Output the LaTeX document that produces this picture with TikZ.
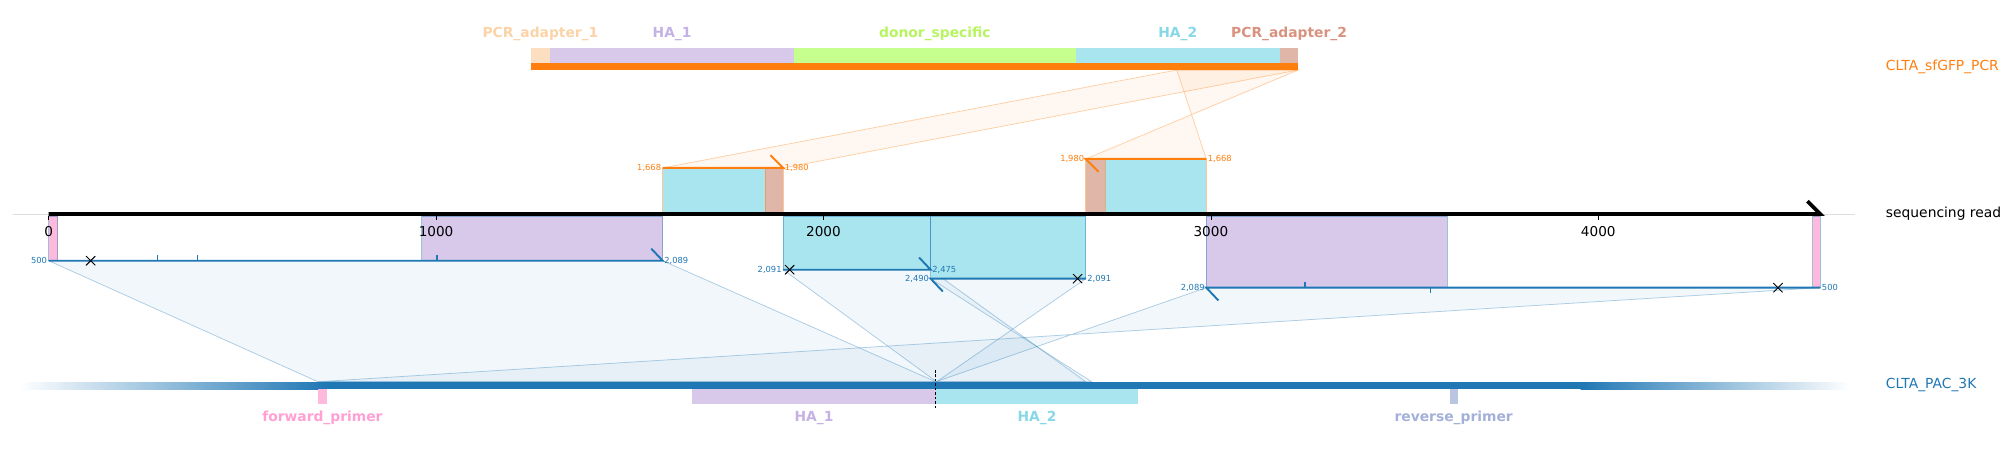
\documentclass[tikz,border=0pt]{standalone}
\usepackage{fontspec}
\setmainfont{DejaVu Sans}
\usepackage{tikz}
\usetikzlibrary{positioning}
\usetikzlibrary{shapes.misc}

\definecolor{cblue}{HTML}{1F77B4}
\definecolor{corange}{HTML}{FF7F0E}
\definecolor{haone}{HTML}{D8C8EA}
\definecolor{haonetxt}{HTML}{C4B1E5}
\definecolor{hatwo}{HTML}{A9E5EE}
\definecolor{hatwotxt}{HTML}{87D8E7}
\definecolor{adaone}{HTML}{FBDFC0}
\definecolor{adaonetxt}{HTML}{FBD3A6}
\definecolor{adatwo}{HTML}{E0B6A8}
\definecolor{adatwotxt}{HTML}{D9927F}
\definecolor{donor}{HTML}{C7FF8E}
\definecolor{donortxt}{HTML}{B6F55F}
\definecolor{fwd}{HTML}{FFB9DC}
\definecolor{fwdtxt}{HTML}{FF9FD3}
\definecolor{rev}{HTML}{BAC5E1}
\definecolor{revtxt}{HTML}{A3B0D8}

\begin{document}
\begin{tikzpicture}[
  x=1pt, y=-1pt,
  every node/.style={font=\fontsize{10.8}{13}\selectfont, inner sep=1pt},
  numlbl/.style={font=\fontsize{6.5}{7}\selectfont, inner sep=0.6pt},
  ticklbl/.style={font=\fontsize{10.6}{12}\selectfont},
  feat/.style={font=\bfseries\fontsize{10.8}{13}\selectfont},
  aln/.style={line width=1.5pt},
  blk/.style={draw opacity=0.45, line width=0.6pt},
  proj/.style={fill opacity=0.06, draw opacity=0.35, line width=0.6pt},
  xmk/.style={draw=black, cross out, line width=0.7pt, minimum size=6.5pt, inner sep=0pt}
]
\useasboundingbox (0,0) rectangle (1568,353);

% Coordinates
\coordinate (c1668) at (918,54.6);
\coordinate (c1980) at (1012.7,54.6);
\coordinate (r500) at (248,297.8);
\coordinate (r2089) at (730,297.8);
\coordinate (r2091) at (730.6,297.8);
\coordinate (r2475) at (847,297.8);
\coordinate (r2490) at (851.6,297.8);
\coordinate (o1s) at (517,131);
\coordinate (o1e) at (611,131);
\coordinate (o2s) at (847,124);
\coordinate (o2e) at (941,124);
\coordinate (a1s) at (38,203.4);
\coordinate (a1e) at (517,203.4);
\coordinate (a2s) at (611,210.4);
\coordinate (a2e) at (726,210.4);
\coordinate (a3s) at (726,217.4);
\coordinate (a3e) at (847,217.4);
\coordinate (a4s) at (941,224.4);
\coordinate (a4e) at (1420,224.4);

% Projections
\filldraw[proj, fill=corange, draw=corange] (c1668) -- (c1980) -- (o1e) -- (o1s) -- cycle;
\filldraw[proj, fill=corange, draw=corange] (c1668) -- (c1980) -- (o2s) -- (o2e) -- cycle;
\filldraw[proj, fill=cblue, draw=cblue] (a1s) -- (a1e) -- (r2089) -- (r500) -- cycle;
\filldraw[proj, fill=cblue, draw=cblue] (a2s) -- (a2e) -- (r2475) -- (r2091) -- cycle;
\filldraw[proj, fill=cblue, draw=cblue] (a3s) -- (a3e) -- (r2091) -- (r2490) -- cycle;
\filldraw[proj, fill=cblue, draw=cblue] (a4s) -- (a4e) -- (r500) -- (r2089) -- cycle;

% Construct
\fill[adaone] (414.3,37.5) rectangle (429,49.4);
\fill[haone] (429,37.5) rectangle (619.6,49.4);
\fill[donor] (619.6,37.5) rectangle (839,49.4);
\fill[hatwo] (839,37.5) rectangle (998.5,49.4);
\fill[adatwo] (998.5,37.5) rectangle (1012.7,49.4);
\fill[corange] (414.3,49.4) rectangle (1012.7,54.6);
\node[feat, text=adaonetxt] (pa1) at (421.6,26.8) {PCR\_adapter\_1};
\node[feat, text=haonetxt] (ha1) at (524.3,26.8) {HA\_1};
\node[feat, text=donortxt] (don) at (729.3,26.8) {donor\_specific};
\node[feat, text=hatwotxt] (ha2) at (918.8,26.8) {HA\_2};
\node[feat, text=adatwotxt] (pa2) at (1005.6,26.8) {PCR\_adapter\_2};
\node[anchor=west, text=corange] (pcr) at (1470,52) {CLTA\_sfGFP\_PCR};

% Blocks on the read
\filldraw[blk, fill=hatwo, draw=corange] (517,165.4) rectangle (597,131);
\filldraw[blk, fill=adatwo, draw=corange] (597,165.4) rectangle (611,131);
\filldraw[blk, fill=adatwo, draw=corange] (847,165.4) rectangle (862,124);
\filldraw[blk, fill=hatwo, draw=corange] (862,165.4) rectangle (941,124);
\filldraw[blk, fill=fwd, draw=cblue] (38,168.5) rectangle (45,203.4);
\filldraw[blk, fill=haone, draw=cblue] (329,168.5) rectangle (517,203.4);
\filldraw[blk, fill=hatwo, draw=cblue] (611,168.5) rectangle (726,210.4);
\filldraw[blk, fill=hatwo, draw=cblue] (726,168.5) rectangle (847,217.4);
\filldraw[blk, fill=haone, draw=cblue] (941,168.5) rectangle (1129,224.4);
\filldraw[blk, fill=fwd, draw=cblue] (1414,168.5) rectangle (1420,224.4);

% Read
\draw[black!13, line width=0.6pt] (10,167) -- (1447,167);
\draw[line width=3pt] (38,167) -- (1420,167) -- (1410,157);
\draw (38,168.5) -- ++(0,3);
\draw (340.2,168.5) -- ++(0,3);
\draw (642.4,168.5) -- ++(0,3);
\draw (944.6,168.5) -- ++(0,3);
\draw (1246.8,168.5) -- ++(0,3);
\node[ticklbl] (t0) at (38,180.5) {0};
\node[ticklbl] (t1) at (340.2,180.5) {1000};
\node[ticklbl] (t2) at (642.4,180.5) {2000};
\node[ticklbl] (t3) at (944.6,180.5) {3000};
\node[ticklbl] (t4) at (1246.8,180.5) {4000};
\node[anchor=west] (read) at (1470,167) {sequencing read};

% Alignments
\draw[aln, corange] (o1s) -- (o1e) -- ++(-10,-10);
\draw[aln, corange] (o2e) -- (o2s) -- ++(10,10);
\node[numlbl, text=corange, left=0.5pt of o1s] (n1) {1,668};
\node[numlbl, text=corange, right=0.5pt of o1e] (n2) {1,980};
\node[numlbl, text=corange, left=0.5pt of o2s] (n3) {1,980};
\node[numlbl, text=corange, right=0.5pt of o2e] (n4) {1,668};

\draw[aln, cblue] (a1s) -- (a1e) -- ++(-9,-9.5);
\draw[aln, cblue] (a2s) -- (a2e) -- ++(-9,-9.5);
\draw[aln, cblue] (a3e) -- (a3s) -- ++(9.5,10);
\draw[aln, cblue] (a4e) -- (a4s) -- ++(9.5,10);
\draw[cblue, line width=1pt] (123,203.4) -- ++(0,-4.4);
\draw[cblue, line width=1pt] (154,203.4) -- ++(0,-4.4);
\draw[cblue, line width=1pt] (341,203.4) -- ++(0,-4.4);
\draw[cblue, line width=1pt] (1018,224.4) -- ++(0,-4.4);
\draw[cblue, line width=1pt] (1116,224.4) -- ++(0,4.4);
\node[xmk] (x1) at (70.7,203.4) {};
\node[xmk] (x2) at (616,210.4) {};
\node[xmk] (x3) at (840.6,217.4) {};
\node[xmk] (x4) at (1387,224.4) {};
\node[numlbl, text=cblue, left=0.5pt of a1s] (m1) {500};
\node[numlbl, text=cblue, right=0.5pt of a1e] (m2) {2,089};
\node[numlbl, text=cblue, left=0.5pt of a2s] (m3) {2,091};
\node[numlbl, text=cblue, right=0.5pt of a2e] (m4) {2,475};
\node[numlbl, text=cblue, left=0.5pt of a3s] (m5) {2,490};
\node[numlbl, text=cblue, right=0.5pt of a3e] (m6) {2,091};
\node[numlbl, text=cblue, left=0.5pt of a4s] (m7) {2,089};
\node[numlbl, text=cblue, right=0.5pt of a4e] (m8) {500};

% Reference
\shade[left color=white, right color=cblue] (15,298.2) rectangle (255,303.5);
\fill[cblue] (254.5,298.2) rectangle (1233.5,303.5);
\shade[left color=cblue, right color=white] (1233,298.2) rectangle (1443,303.5);
\fill[fwd] (248,303.5) rectangle (255,315.2);
\fill[haone] (540,303.5) rectangle (730,315.2);
\fill[hatwo] (730,303.5) rectangle (888,315.2);
\fill[rev] (1131,303.5) rectangle (1137,315.2);
\draw[dash pattern=on 2pt off 1.5pt, line width=0.8pt] (730,288.6) -- (730,319.3);
\node[feat, text=fwdtxt] (fp) at (251.5,326.3) {forward\_primer};
\node[feat, text=haonetxt] (rha1) at (635,326.3) {HA\_1};
\node[feat, text=hatwotxt] (rha2) at (809,326.3) {HA\_2};
\node[feat, text=revtxt] (rp) at (1134,326.3) {reverse\_primer};
\node[anchor=west, text=cblue] (pac) at (1470,300) {CLTA\_PAC\_3K};
\end{tikzpicture}
\end{document}
